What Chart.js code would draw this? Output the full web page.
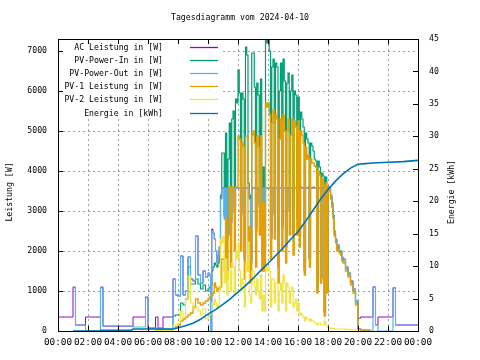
<!DOCTYPE html>
<html>
<head>
<meta charset="utf-8">
<script src="https://cdn.jsdelivr.net/npm/chart.js@4.4.1/dist/chart.umd.min.js"></script>
<style>
  html, body { margin: 0; padding: 0; background: #fff; }
</style>
</head>
<body>
<canvas id="chart" width="480" height="360"></canvas>
<script>
// time grid: 10 min steps 00:00-09:50, 5 min steps 10:00-18:55, 10 min steps 19:00-24:00
let title_text = 'Tagesdiagramm vom 2024-04-10';
let x_tick_labels = ['00:00','02:00','04:00','06:00','08:00','10:00','12:00','14:00','16:00','18:00','20:00','22:00','00:00'];
let y_tick_values = [0, 1000, 2000, 3000, 4000, 5000, 6000, 7000];

let slot_hours = [];
for (let m = 0; m < 600; m += 10) slot_hours.push(m / 60);
for (let m = 600; m < 1140; m += 5) slot_hours.push(m / 60);
for (let m = 1140; m <= 1440; m += 10) slot_hours.push(m / 60);

let ac_power = [
  // 00:00 - 09:50
  350,350,350,350,350,350, 1100, 150,150,150,150, 350,350,350,350,350,350, 1100,
  120,120,120,120,120,120,120,120,120,120,120,120, 350,350,350,350,350, 850,
  75,75,75, 350, 75,75, 350,350,350,350, 1300, 900,
  875,1875,900,1000,1850,1300,1250,2375,1400,1200,1500,1350,
  // 10:00 - 18:55
  1450,1400,0,2550,2450,2300,2000,1700,1900,2100,3300,3575,
  3575,2800,3575,2300,3575,3575,2700,3575,3575,3000,3575,3575,
  3575,3575,2900,3575,3575,1800,3575,3575,3575,3300,1700,3575,
  3575,3575,2500,3575,3575,3100,3575,1900,3575,1900,3575,3575,
  3575,3575,2300,3575,3575,2900,3575,3575,1600,3575,3575,2600,
  3575,3575,2100,3575,3575,3000,3575,3575,2400,3575,3575,2800,
  3575,2400,3600,3575,3575,1500,3575,3575,3600,1800,3575,3575,
  3600,3575,3575,1050,3575,3575,1300,3575,3600,450,3575,1000,
  3600,3575,3400,3100,2900,2500,2300,2100,2150,2000,2000,1850,
  // 19:00 - 24:00
  1800,1600,1450,1250,1050,750, 320, 350,350,350,350,350, 1100, 150, 350,350,350,350,350,350, 1080,
  150,150,150,150,150,150,150,150,150,150
];
let pv_in = [
  null,null,null,null,null,null,null,null,null,null,null,null,null,null,null,null,null,null,null,null,
  null,null,null,null,null,null,null,null,null,null,null,null,null,null,null,null,null,null,null,
  30,30,30,30,30,30,30, 375, 400,
  400,700,650,800,1600,1175,1175,1300,1175,1050,1150,1000,
  1050,1100,1150,1500,1600,1700,1650,1600,1700,2000,3400,4450,
  4450,2900,4950,2400,4300,5200,2800,5300,5500,3100,5800,5700,
  6525,5950,3000,5950,5800,1900,7100,6900,3700,3400,1800,6950,
  6950,6100,2600,6200,5900,3200,6300,2000,4100,2000,7300,7200,
  7300,7000,2400,6600,6800,3000,6700,6600,1700,6000,6700,2700,
  6800,6250,2200,6200,6450,3100,6000,6400,2500,6000,5900,2900,
  5850,2500,5475,5300,5100,1600,4950,4800,4700,1850,4700,4625,
  4500,4300,4250,1100,4250,4100,1350,3950,3875,500,3850,1100,
  3600,3550,3350,3200,2850,2400,2250,2050,2100,2000,1950,1800,
  1750,1550,1400,1200,1000,700, 60, 25,25,25,25,25,
  null,null,null,null,null,null,null,null,null,null,null,null,null,null,null,null,null,null,null
];
let pv_out = [
  null,null,null,null,null,null, 1080, 150,150,150,150, 0,0,0,0,0,0, 1080,
  125,125,125,125,125,125,125,125,125,125,125,125, 100,100,100,100,100, 825,
  75,75,75, 75, 75,75, 50,50,50,50, 1300, 900,
  875,1875,900,1000,1850,1300,1250,2375,1400,1200,1500,1350,
  1450,1400,0,2500,2450,2300,2000,1700,1900,2100,3300,3575,
  3575,2800,3575,2300,3575,3575,2700,3575,3575,3000,3575,3575,
  3575,3575,2900,3575,3575,1800,3575,3575,3575,3300,1700,3575,
  3575,3575,2500,3575,3575,3100,3575,1900,3575,1900,3575,3575,
  3575,3575,2300,3575,3575,2900,3575,3575,1600,3575,3575,2600,
  3575,3575,2100,3575,3575,3000,3575,3575,2400,3575,3575,2800,
  3575,2400,3575,3575,3575,1500,3575,3575,3575,1800,3575,3575,
  3575,3575,3575,1050,3575,3575,1300,3575,3575,450,3575,1000,
  3575,3575,3400,3100,2900,2500,2300,2100,2150,2000,2000,1850,
  1800,1600,1450,1250,1050,750, 60, 0,0,0,0,0, 1100, 150, 0,0,0,0,0,0, 1080,
  150,150,150,150,150,150,150,150,150,150
];
let pv1_power = [
  null,null,null,null,null,null,null,null,null,null,null,null,null,null,null,null,null,null,null,null,
  null,null,null,null,null,null,null,null,null,null,null,null,null,null,null,null,null,null,null,
  15,15,15,15,15,15,15, 80, 100,
  150,250,300,350,400,450,600,800,700,650,700,750,
  800,850,850,900,950,1200,1100,1000,1050,1100,1100,1800,
  1800,1500,2825,1300,2400,3600,1600,3600,3500,2000,3600,3600,
  4875,4800,2000,4700,4600,1300,4875,4875,1500,2600,1200,4900,
  5000,4700,1600,4875,4600,2400,4875,1500,3200,1500,5700,5600,
  5700,5400,1800,5200,5525,2300,5400,5300,1200,4800,5300,2000,
  5400,5000,1700,5000,5300,2400,4900,5300,1900,5250,5100,2400,
  5250,2100,5000,4900,4700,1400,4600,4300,4400,1600,4300,4200,
  4200,4125,4100,950,4000,3900,1200,3800,3650,375,3700,950,
  3550,3500,3300,3150,2800,2375,2200,2000,2050,1950,1900,1750,
  1700,1500,1350,1150,950,650, 50, 20,20,20,20,20,
  null,null,null,null,null,null,null,null,null,null,null,null,null,null,null,null,null,null,null
];
let pv2_power = [
  null,null,null,null,null,null,null,null,null,null,null,null,null,null,null,null,null,null,null,null,
  null,null,null,null,null,null,null,null,null,null,null,null,null,null,null,null,null,null,null,
  15,15,15,15,15,15,15, 150, 150,
  200,500,350,800,1375,700,550,600,500,400,550,300,
  350,400,450,700,650,800,700,600,650,1000,2300,2200,
  2375,1200,1800,900,1500,1500,1000,1700,1600,900,2000,1800,
  2200,1500,1000,1300,1200,600,1700,1500,2225,900,700,1500,
  1500,1100,900,1300,1000,800,1400,500,900,500,1600,1500,
  1600,1500,600,1300,1300,700,1200,1200,500,1000,1200,700,
  1400,1200,500,1200,1100,700,1000,1100,600,700,800,500,
  700,400,450,400,350,250,350,300,300,250,300,250,
  250,200,200,150,200,200,150,150,150,250,150,100,
  80,80,70,60,60,50,50,50,50,50,50,50,
  50,40,40,30,30,25, 10,
  null,null,null,null,null,null,null,null,null,null,null,null,null,null,null,null,null,null,null,null,null,null,null,null
];

// cumulative energy, own time grid (hours) on the right axis
let energy_hours = [1.0,2.8,2.85,4.9,5.0,7.7,8.0,8.5,9.0,9.5,10.0,10.5,11.0,11.5,12.0,12.5,13.0,13.5,14.0,14.5,15.0,15.5,16.0,16.5,17.0,17.5,18.0,18.5,19.0,19.5,20.0,20.5,21.0,22.0,23.0,24.0];
let energy_kwh = [0,0,0.1,0.1,0.3,0.3,0.5,0.8,1.2,1.8,2.6,3.3,4.1,5.0,6.0,7.0,8.1,9.3,10.4,11.6,12.8,14.1,15.3,16.9,18.6,20.3,21.8,23.1,24.2,25.1,25.7,25.8,25.9,26.0,26.1,26.3];

let FONT = '"DejaVu Sans Mono", monospace';

function toPoints(values) {
  return values.map((v, i) => ({x: slot_hours[i], y: v}));
}

function powerSet(label, values, color, width, order) {
  return {
    label: label, data: toPoints(values), borderColor: color, backgroundColor: color,
    borderWidth: width, pointRadius: 0, stepped: true, fill: false, yAxisID: 'y', order: order
  };
}

// gnuplot look: opaque key top left, black border, inward tics, axis labels
let gnuplotFrame = {
  id: 'gnuplotFrame',
  afterDatasetsDraw(chart) {
    let ctx = chart.ctx;
    let a = chart.chartArea;
    ctx.save();
    ctx.fillStyle = '#fff';
    ctx.fillRect(a.left + 1, a.top + 1, 163, 78);

    ctx.font = '8.2px ' + FONT;
    ctx.textBaseline = 'middle';
    ctx.textAlign = 'right';
    chart.data.datasets.forEach((ds, i) => {
      let ly = Math.round(a.top + 8 + i * 13.1) + 0.5;
      ctx.fillStyle = '#000';
      ctx.fillText(ds.label, a.left + 105, ly);
      ctx.strokeStyle = ds.borderColor;
      ctx.lineWidth = 1.3;
      ctx.beginPath();
      ctx.moveTo(a.left + 132, ly);
      ctx.lineTo(a.left + 160, ly);
      ctx.stroke();
    });

    ctx.strokeStyle = '#000';
    ctx.lineWidth = 1;
    ctx.strokeRect(Math.round(a.left) + 0.5, Math.round(a.top) + 0.5, Math.round(a.right - a.left), Math.round(a.bottom - a.top));

    ctx.beginPath();
    let sx = chart.scales.x, sy = chart.scales.y, sy2 = chart.scales.y2;
    sx.ticks.forEach(t => {
      let px = Math.round(sx.getPixelForValue(t.value)) + 0.5;
      ctx.moveTo(px, a.bottom); ctx.lineTo(px, a.bottom - 5);
      ctx.moveTo(px, a.top); ctx.lineTo(px, a.top + 5);
    });
    sy.ticks.forEach(t => {
      let py = Math.round(sy.getPixelForValue(t.value)) + 0.5;
      ctx.moveTo(a.left, py); ctx.lineTo(a.left + 5, py);
    });
    sy2.ticks.forEach(t => {
      let py = Math.round(sy2.getPixelForValue(t.value)) + 0.5;
      ctx.moveTo(a.right, py); ctx.lineTo(a.right - 5, py);
    });
    ctx.stroke();

    let cy = (a.top + a.bottom) / 2 + 7;
    ctx.fillStyle = '#000';
    ctx.textAlign = 'center';
    ctx.translate(10, cy);
    ctx.rotate(-Math.PI / 2);
    ctx.fillText('Leistung [W]', 0, 0);
    ctx.rotate(Math.PI / 2);
    ctx.translate(442, 0);
    ctx.rotate(-Math.PI / 2);
    ctx.fillText('Energie [kWh]', 0, 0);
    ctx.restore();
  }
};

let chart = new Chart(document.getElementById('chart'), {
  type: 'line',
  data: {
    datasets: [
      powerSet('AC Leistung in [W]', ac_power, '#9400d3', 1, 5),
      powerSet('PV-Power-In in [W]', pv_in, '#009e73', 1.2, 4),
      powerSet('PV-Power-Out in [W]', pv_out, '#56b4e9', 1.2, 3),
      powerSet('PV-1 Leistung in [W]', pv1_power, '#e69f00', 1.3, 2),
      powerSet('PV-2 Leistung in [W]', pv2_power, '#f0e442', 1.2, 1),
      {
        label: 'Energie in [kWh]',
        data: energy_hours.map((h, i) => ({x: h, y: energy_kwh[i]})),
        borderColor: '#0072b2', backgroundColor: '#0072b2',
        borderWidth: 1.6, pointRadius: 0, fill: false, yAxisID: 'y2', order: 0
      }
    ]
  },
  options: {
    responsive: false,
    animation: false,
    layout: { padding: 0 },
    plugins: {
      legend: { display: false },
      tooltip: { enabled: false },
      title: {
        display: true, text: title_text, color: '#000',
        font: { family: FONT, size: 8.2, weight: 'normal', lineHeight: 1 },
        padding: { top: 14, bottom: 16.8 }
      }
    },
    scales: {
      x: {
        type: 'linear', min: 0, max: 24,
        afterFit(scale) { scale.height = 29; },
        ticks: {
          stepSize: 2, autoSkip: false, maxRotation: 0, padding: 6, color: '#000',
          font: { family: FONT, size: 9.4 },
          callback: v => x_tick_labels[v / 2]
        },
        grid: { color: '#a0a0a0', drawTicks: false },
        border: { display: false, dash: [2, 3] }
      },
      y: {
        position: 'left', min: 0, max: 7300,
        afterFit(scale) { scale.width = 58; },
        afterBuildTicks(scale) { scale.ticks = y_tick_values.map(v => ({value: v})); },
        ticks: {
          padding: 11, color: '#000',
          font: { family: FONT, size: 8.2 },
          callback: v => String(v)
        },
        grid: { color: '#a0a0a0', drawTicks: false },
        border: { display: false, dash: [2, 3] }
      },
      y2: {
        position: 'right', min: 0, max: 45,
        afterFit(scale) { scale.width = 62; },
        ticks: {
          stepSize: 5, padding: 11, color: '#000',
          font: { family: FONT, size: 8.2 },
          callback: v => String(v)
        },
        grid: { drawOnChartArea: false, drawTicks: false },
        border: { display: false }
      }
    }
  },
  plugins: [gnuplotFrame]
});
</script>
</body>
</html>
